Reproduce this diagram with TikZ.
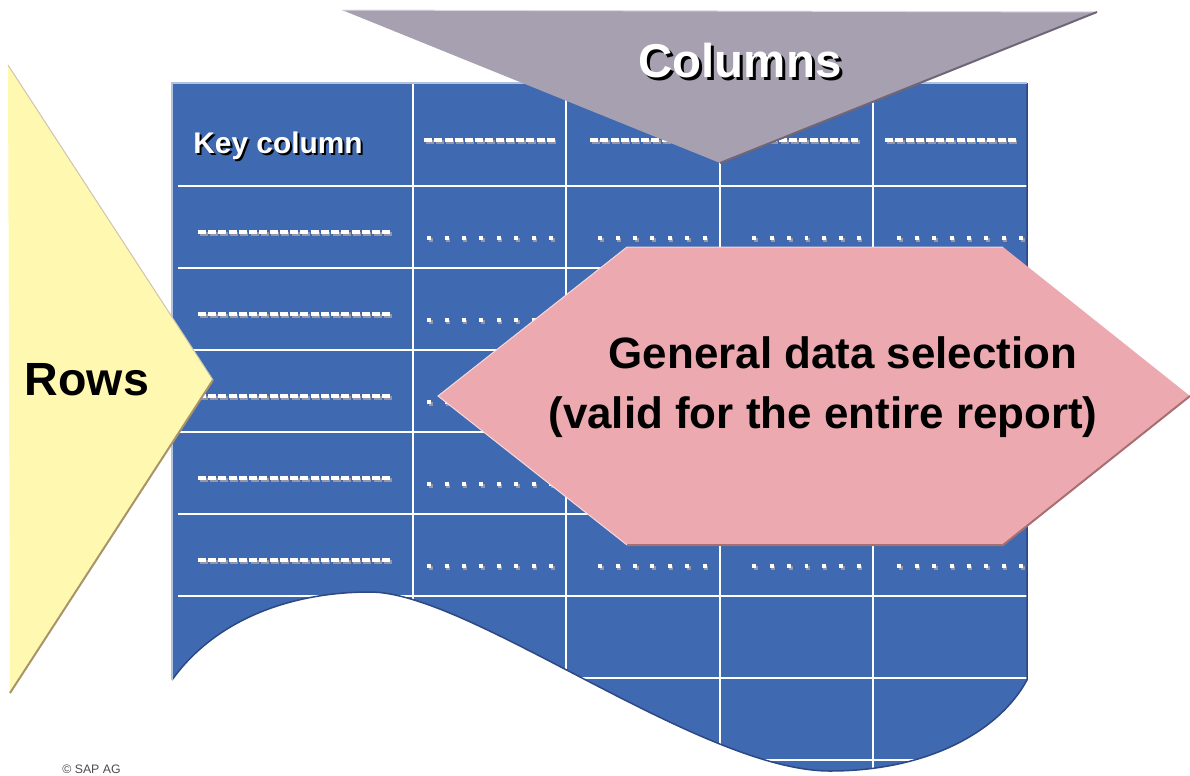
\documentclass[tikz,border=0pt]{standalone}
\usepackage{fontspec}
\setmainfont{Liberation Sans}
\usetikzlibrary{positioning}

\definecolor{tableblue}{RGB}{63,105,177}
\definecolor{tableedge}{RGB}{45,72,130}
\definecolor{colgray}{RGB}{167,160,176}
\definecolor{colgrayedge}{RGB}{112,102,118}
\definecolor{rowyellow}{RGB}{255,248,176}
\definecolor{rowyellowedge}{RGB}{168,148,104}
\definecolor{selpink}{RGB}{236,170,176}
\definecolor{selpinkedge}{RGB}{168,110,112}
\definecolor{dashshadow}{RGB}{150,150,165}

% white text with a black drop shadow
\newcommand{\shadowed}[2]{\rlap{\kern#1\raisebox{-#1}{\color{black}#2}}\color{white}#2}
% placeholder line with its shadow: style, x1, x2, y
\newcommand{\phline}[4]{%
    \draw[#1, dashshadow] (#2+1.5,#4+1.5) -- (#3+1.5,#4+1.5);
    \draw[#1, white] (#2,#4) -- (#3,#4);}
\newcommand{\tableoutline}{(172,83) -- (1027,83) -- (1027,680)
    .. controls (1000,730) and (930,771) .. (830,771)
    .. controls (700,771) and (470,592) .. (370,592)
    .. controls (290,592) and (215,620) .. (172,680) -- cycle}

\begin{document}
\begin{tikzpicture}[
        x=0.02cm, y=-0.02cm,
        gridline/.style={white, line width=0.04cm},
        dashph/.style={line width=0.08cm, dash pattern=on 0.16cm off 0.045cm},
        dotph/.style={line width=0.08cm, dash pattern=on 0.08cm off 0.27cm},
        keytext/.style={font=\bfseries\fontsize{17}{20}\selectfont, inner sep=0pt},
        bigtext/.style={font=\bfseries\fontsize{27}{32}\selectfont, inner sep=0pt},
        seltext/.style={font=\bfseries\fontsize{25}{34}\selectfont, inner sep=0pt, align=center},
    ]
    \useasboundingbox (0,0) rectangle (1190,775);

    % table with wavy bottom
    \begin{scope}
        \clip \tableoutline;
        \fill[tableblue] \tableoutline;
        \foreach \gy in {186,268,350,432,514,596,678,760}
            \draw[gridline] (178,\gy) -- (1027,\gy);
        \foreach \gx in {413,566,720,873}
            \draw[gridline] (\gx,83) -- (\gx,775);
    \end{scope}
    \draw[tableedge, line width=0.03cm] (1027,83) -- (1027,680)
        .. controls (1000,730) and (930,771) .. (830,771)
        .. controls (700,771) and (470,592) .. (370,592)
        .. controls (290,592) and (215,620) .. (172,680);
    \draw[white!60!tableblue, line width=0.03cm] (172,680) -- (172,83) -- (1027,83);

    \node[keytext, anchor=base west] (keycol) at (193,153) {\shadowed{1.2pt}{Key column}};

    % header placeholders
    \foreach \xa/\xb in {424/556, 590/706, 738/858, 885/1017} {
        \phline{dashph}{\xa}{\xb}{140}
    }
    % row placeholders
    \foreach \ry in {232,314,396,478,560} {
        \phline{dashph}{198}{392}{\ry}
        \phline{dotph}{427}{554}{\ry+6}
        \phline{dotph}{598}{707}{\ry+6}
        \phline{dotph}{752}{861}{\ry+6}
        \phline{dotph}{897}{1024}{\ry+6}
    }

    % rows arrow
    \fill[rowyellow] (8,65) -- (213,380) -- (10,693) -- cycle;
    \draw[rowyellowedge!55, line width=0.02cm] (8,65) -- (213,380);
    \draw[rowyellowedge, line width=0.04cm] (213,380) -- (10,693);
    \node[bigtext, font=\bfseries\fontsize{26.5}{32}\selectfont] (rows) at (87,380) {Rows};

    % columns arrow
    \fill[colgray] (342,10) -- (1097,12) -- (720,163) -- cycle;
    \draw[white!60!colgray, line width=0.02cm] (342,10) -- (1097,12);
    \draw[colgrayedge, line width=0.04cm] (1097,12) -- (720,163);
    \node[bigtext] (columns) at (740,62) {\shadowed{1.7pt}{Columns}};

    % general selection
    \fill[selpink] (438,396) -- (627,247) -- (1003,247) -- (1190,396)
        -- (1003,545) -- (627,545) -- cycle;
    \draw[white!55!selpink, line width=0.02cm] (627,545) -- (438,396) -- (627,247) -- (1003,247);
    \draw[selpinkedge, line width=0.04cm] (1190,396) -- (1003,545) -- (627,545);
    \node[seltext] (selection) at (823,387)
        {\hspace*{0.8cm}General data selection\\(valid for the entire report)};

    \node[font=\fontsize{7}{8}\selectfont, text=black!70, anchor=south west, inner sep=0pt]
        (copyright) at (62,774) {© SAP AG};
\end{tikzpicture}
\end{document}
